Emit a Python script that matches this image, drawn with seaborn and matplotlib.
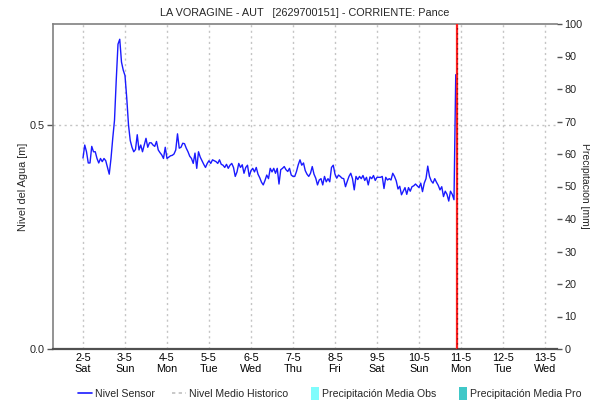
import numpy as np
import pandas as pd
import seaborn as sns
import matplotlib
matplotlib.use("Agg")
import matplotlib.pyplot as plt
from matplotlib.lines import Line2D
from matplotlib.patches import Patch, Rectangle
from matplotlib.legend_handler import HandlerPatch

# Hourly water level readings [m], starting 2-5 00:00
level_day2 = [0.426, 0.455, 0.440, 0.415, 0.415, 0.452, 0.440, 0.440, 0.425, 0.415, 0.425, 0.418,
              0.425, 0.420, 0.405, 0.390, 0.425, 0.470, 0.510, 0.600, 0.680, 0.691, 0.640, 0.622]
level_day3 = [0.610, 0.560, 0.500, 0.465, 0.450, 0.440, 0.445, 0.478, 0.444, 0.455, 0.440, 0.455,
              0.470, 0.450, 0.460, 0.460, 0.455, 0.452, 0.463, 0.444, 0.438, 0.433, 0.425, 0.450]
level_day4 = [0.425, 0.428, 0.431, 0.432, 0.435, 0.444, 0.480, 0.448, 0.450, 0.459, 0.458, 0.448,
              0.440, 0.430, 0.425, 0.414, 0.437, 0.403, 0.440, 0.428, 0.420, 0.412, 0.405, 0.414]
level_day5 = [0.420, 0.414, 0.422, 0.420, 0.418, 0.414, 0.422, 0.412, 0.410, 0.405, 0.412, 0.403,
              0.410, 0.414, 0.405, 0.385, 0.395, 0.414, 0.405, 0.411, 0.392, 0.405, 0.410, 0.385]
level_day6 = [0.398, 0.403, 0.395, 0.405, 0.390, 0.382, 0.372, 0.366, 0.376, 0.388, 0.380, 0.403,
              0.395, 0.403, 0.392, 0.403, 0.368, 0.400, 0.403, 0.407, 0.400, 0.396, 0.403, 0.388]
level_day7 = [0.385, 0.385, 0.396, 0.411, 0.422, 0.410, 0.415, 0.398, 0.390, 0.385, 0.392, 0.407,
              0.390, 0.381, 0.366, 0.377, 0.380, 0.366, 0.385, 0.373, 0.380, 0.373, 0.405, 0.410]
level_day8 = [0.390, 0.381, 0.388, 0.385, 0.381, 0.380, 0.362, 0.374, 0.385, 0.392, 0.380, 0.355,
              0.385, 0.378, 0.385, 0.380, 0.387, 0.376, 0.383, 0.366, 0.384, 0.380, 0.387, 0.376]
level_day9 = [0.383, 0.383, 0.383, 0.385, 0.358, 0.383, 0.377, 0.380, 0.377, 0.392, 0.385, 0.375,
              0.357, 0.363, 0.344, 0.352, 0.360, 0.345, 0.360, 0.352, 0.362, 0.364, 0.368, 0.364]
level_day10 = [0.360, 0.370, 0.351, 0.370, 0.380, 0.408, 0.385, 0.375, 0.370, 0.380, 0.372, 0.365,
               0.355, 0.362, 0.340, 0.352, 0.345, 0.330, 0.352, 0.345, 0.333, 0.612, 0.545]

tick_days = [2, 3, 4, 5, 6, 7, 8, 9, 10, 11, 12, 13]
tick_dates = ["2-5", "3-5", "4-5", "5-5", "6-5", "7-5", "8-5", "9-5", "10-5", "11-5", "12-5", "13-5"]
tick_weekdays = ["Sat", "Sun", "Mon", "Tue", "Wed", "Thu", "Fri", "Sat", "Sun", "Mon", "Tue", "Wed"]
now_marker = 10 + 22 / 24          # current time: 10-5 22:00
x_range = (1 + 6.86 / 24, 13 + 6.86 / 24)

level = (level_day2 + level_day3 + level_day4 + level_day5 + level_day6 +
         level_day7 + level_day8 + level_day9 + level_day10)
df = pd.DataFrame({"day": 2 + np.arange(len(level)) / 24, "nivel": level})

sns.set_theme(style="white")
plt.rcParams["font.family"] = ["Liberation Sans", "DejaVu Sans"]

fig = plt.figure(figsize=(5.9, 4.04), dpi=100)
ax = fig.add_axes([53 / 590, 1 - 349 / 404, 504 / 590, 325 / 404])

sns.lineplot(data=df, x="day", y="nivel", ax=ax, color="#1a1aff", linewidth=1.0)

ax.axvline(now_marker, color="#ff2020", linewidth=1.6, zorder=4)
ax.axvline(now_marker, color="#7a1010", linewidth=0.9, linestyle=(0, (1, 3)), zorder=5)

ax.set_xlim(*x_range)
ax.set_ylim(0, 0.725)
ax.set_xticks(tick_days)
ax.set_xticklabels([f"{d}\n{w}" for d, w in zip(tick_dates, tick_weekdays)], fontsize=7.8, linespacing=1.1)
ax.set_yticks([0.0, 0.5])
ax.set_yticklabels(["0.0", "0.5"], fontsize=7.8)
ax.tick_params(axis="x", length=0, pad=3, colors="#000000")
ax.tick_params(axis="y", length=4, width=1, pad=2, color="#555555", left=True)
ax.grid(True, color="#c4c4c4", linestyle=(0, (1.5, 2.5)), linewidth=1)
ax.set_axisbelow(True)
ax.set_xlabel("")
ax.set_ylabel("Nivel del Agua [m]", fontsize=7.8)
ax.yaxis.set_label_coords(-0.05, 0.5)

for side in ["left", "top"]:
    ax.spines[side].set_color("#808080")
    ax.spines[side].set_linewidth(1.2)
ax.spines["right"].set_visible(False)
ax.spines["bottom"].set_color("#505050")
ax.spines["bottom"].set_linewidth(1.6)
ax.spines["bottom"].set_linestyle((0, (1, 1)))

ax2 = ax.twinx()
ax2.set_ylim(0, 100)
ax2.set_yticks(np.arange(0, 101, 10))
ax2.set_yticklabels([str(v) for v in range(0, 101, 10)], fontsize=7.8)
ax2.tick_params(axis="y", length=3.5, width=1, pad=2, color="#555555", right=True)
for side in ["left", "top", "bottom", "right"]:
    ax2.spines[side].set_visible(False)
ax2.grid(False)
fig.text(584.5 / 590, 1 - 186 / 404, "Precipitación [mm]", rotation=270,
         ha="center", va="center", fontsize=7.5)

ax.set_title("LA VORAGINE - AUT   [2629700151] - CORRIENTE: Pance", fontsize=7.8, pad=6)


def narrow_patch(legend, orig_handle, xdescent, ydescent, width, height, fontsize):
    return Rectangle((width - 6 - xdescent, -ydescent - 2), 6, height + 4)


handles = [
    Line2D([], [], color="#1a1aff", linewidth=1.2),
    Line2D([], [], color="#c0c0c0", linewidth=1.2, linestyle=(0, (2, 2))),
    Patch(facecolor="#7ffcfc", edgecolor="none"),
    Patch(facecolor="#40c8c8", edgecolor="none"),
]
labels = ["Nivel Sensor", "Nivel Medio Historico", "Precipitación Media Obs", "Precipitación Media Pro"]
fig.legend(handles, labels, loc="center", bbox_to_anchor=(330 / 590, 1 - 394 / 404), ncol=4,
           frameon=False, fontsize=7.6, handlelength=1.3, handletextpad=0.3, columnspacing=1.6,
           handler_map={Patch: HandlerPatch(patch_func=narrow_patch)})

fig.savefig("out.png", dpi=100)
